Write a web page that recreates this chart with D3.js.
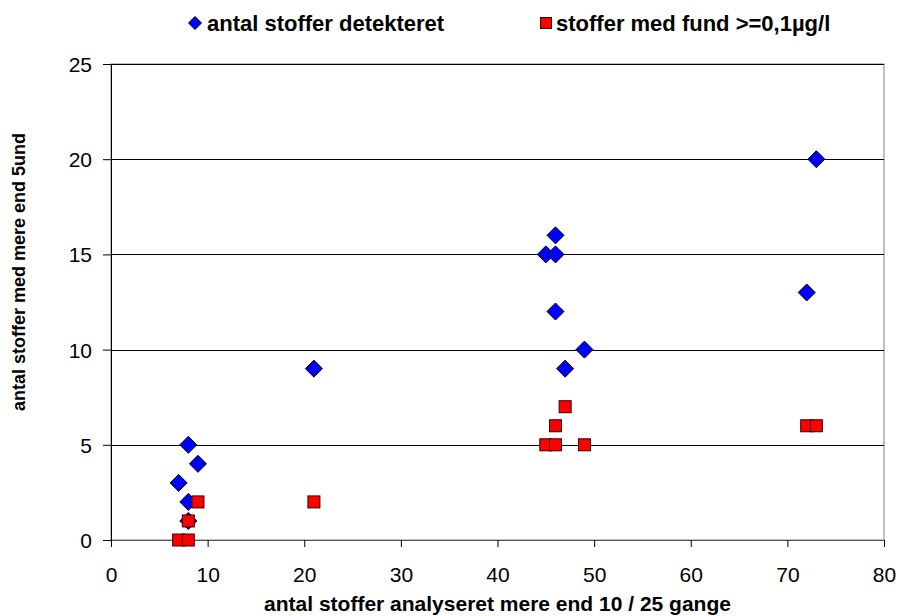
<!DOCTYPE html>
<html>
<head>
<meta charset="utf-8">
<script src="https://cdn.jsdelivr.net/npm/d3@7"></script>
<style>
  html, body { margin: 0; padding: 0; background: #fff; }
  svg { display: block; font-family: "Liberation Sans", Arial, sans-serif; }
</style>
</head>
<body>
<svg id="chart" width="899" height="616"></svg>
<script>
// ---- data ----
const seriesNames = ["antal stoffer detekteret", "stoffer med fund >=0,1µg/l"];
const detectedX = [7, 8, 9, 8, 8, 21, 45, 46, 46, 46, 47, 49, 72, 73];
const detectedY = [3, 5, 4, 2, 1, 9, 15, 16, 15, 12, 9, 10, 13, 20];
const fundX = [7, 8, 8, 9, 21, 45, 46, 46, 47, 49, 72, 73];
const fundY = [0, 0, 1, 2, 2, 5, 5, 6, 7, 5, 6, 6];
const xTicks = [0, 10, 20, 30, 40, 50, 60, 70, 80];
const yTicks = [0, 5, 10, 15, 20, 25];
const xTitle = "antal stoffer analyseret mere end 10 / 25 gange";
const yTitle = "antal stoffer med mere end 5und";

// ---- layout ----
const svg = d3.select("#chart");
const L = 111, R = 884, T = 64, B = 540;
const x = d3.scaleLinear().domain([0, 80]).range([L, R]);
const y = d3.scaleLinear().domain([0, 25]).range([B, T]);

// plot border
svg.append("rect").attr("x", L).attr("y", T).attr("width", R - L).attr("height", B - T)
  .attr("fill", "none").attr("stroke", "#808080").attr("stroke-width", 1);

// gridlines
svg.append("g").selectAll("line").data(yTicks.filter(d => d > 0)).join("line")
  .attr("x1", L).attr("x2", R)
  .attr("y1", d => Math.round(y(d)) + 0.5).attr("y2", d => Math.round(y(d)) + 0.5)
  .attr("stroke", "#000").attr("stroke-width", 1);

// axes
const xAxis = svg.append("g").attr("transform", `translate(0,${B})`)
  .call(d3.axisBottom(x).tickValues(xTicks).tickSize(7).tickPadding(20).tickFormat(d3.format("d")));
const yAxis = svg.append("g").attr("transform", `translate(${L},0)`)
  .call(d3.axisLeft(y).tickValues(yTicks).tickSize(8).tickPadding(11).tickFormat(d3.format("d")));
[xAxis, yAxis].forEach(a => {
  a.select(".domain").attr("stroke", "#000");
  a.selectAll(".tick line").attr("stroke", "#000");
  a.selectAll(".tick text").attr("fill", "#000").style("font-size", "21px")
    .style("font-family", '"Liberation Sans", Arial, sans-serif');
});
xAxis.select(".domain").attr("stroke", "#555");
yAxis.selectAll(".tick text").attr("dy", "0.36em");

// markers: diamonds
const dr = 8.5;
const diamond = `M0,${-dr}L${dr},0L0,${dr}L${-dr},0Z`;
svg.append("g").selectAll("path").data(detectedX.map((d, i) => [d, detectedY[i]])).join("path")
  .attr("transform", d => `translate(${x(d[0])},${y(d[1])})`)
  .attr("d", diamond).attr("fill", "#0000FF").attr("stroke", "#000").attr("stroke-width", 1);

// markers: squares
const sq = 12;
svg.append("g").selectAll("rect").data(fundX.map((d, i) => [d, fundY[i]])).join("rect")
  .attr("x", d => x(d[0]) - sq / 2).attr("y", d => y(d[1]) - sq / 2)
  .attr("width", sq).attr("height", sq)
  .attr("fill", "#FF0000").attr("stroke", "#3a0000").attr("stroke-width", 1);

// legend
const lg = svg.append("g").style("font-weight", "bold").style("font-size", "22px");
lg.append("path").attr("transform", "translate(195,23)")
  .attr("d", `M0,-6.5L6.5,0L0,6.5L-6.5,0Z`).attr("fill", "#0000FF").attr("stroke", "#000");
lg.append("text").attr("x", 207).attr("y", 31).text(seriesNames[0]);
lg.append("rect").attr("x", 540.5).attr("y", 17.5).attr("width", 11).attr("height", 11)
  .attr("fill", "#FF0000").attr("stroke", "#3a0000");
lg.append("text").attr("x", 556).attr("y", 31).text(seriesNames[1]);

// axis titles
svg.append("text").attr("x", (L + R) / 2).attr("y", 611).attr("text-anchor", "middle")
  .style("font-weight", "bold").style("font-size", "21px").text(xTitle);
svg.append("text").attr("transform", `translate(25,272) rotate(-90)`)
  .attr("text-anchor", "middle")
  .style("font-weight", "bold").style("font-size", "18px").text(yTitle);
</script>
</body>
</html>
